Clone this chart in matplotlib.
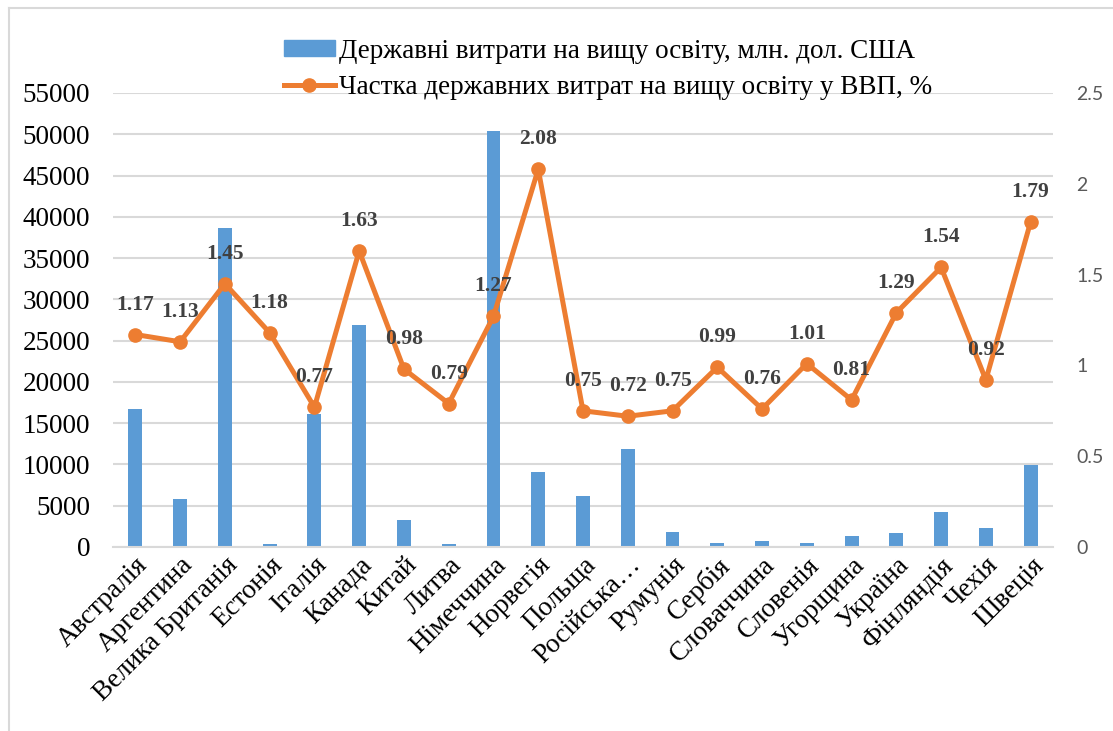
import numpy as np
import matplotlib
matplotlib.use('Agg')
import matplotlib.pyplot as plt
from matplotlib.lines import Line2D

countries = ["Австралія", "Аргентина", "Велика Британія", "Естонія", "Італія",
             "Канада", "Китай", "Литва", "Німеччина", "Норвегія", "Польща",
             "Російська…", "Румунія", "Сербія", "Словаччина", "Словенія",
             "Угорщина", "Україна", "Фінляндія", "Чехія", "Швеція"]
spending = [16700, 5800, 38700, 320, 16150, 26900, 3300, 400, 50350, 9050, 6200,
            11900, 1800, 500, 770, 520, 1290, 1650, 4250, 2300, 9900]
gdp_share = [1.17, 1.13, 1.45, 1.18, 0.77, 1.63, 0.98, 0.79, 1.27, 2.08, 0.75,
             0.72, 0.75, 0.99, 0.76, 1.01, 0.81, 1.29, 1.54, 0.92, 1.79]
left_ticks = list(range(0, 55001, 5000))
right_ticks = [0, 0.5, 1, 1.5, 2, 2.5]

bar_label = "Державні витрати на вищу освіту, млн. дол. США"
line_label = "Частка державних витрат на вищу освіту у ВВП, %"

BLUE = "#5B9BD5"
ORANGE = "#ED7D31"
SERIF = "Liberation Serif"

W, H = 1113, 731
fig = plt.figure(figsize=(W / 100, H / 100), dpi=100)
ax = fig.add_axes([113 / W, (H - 547) / H, 940 / W, 454 / H])

x = np.arange(len(countries))
ax.bar(x, spending, width=0.31, color=BLUE, zorder=2)
ax.set_xlim(-0.5, len(countries) - 0.5)
ax.set_ylim(0, 55000)
ax.set_yticks(left_ticks)
ax.set_yticklabels([str(v) for v in left_ticks], fontfamily=SERIF, fontsize=19.5)
ax.yaxis.grid(True, color="#D9D9D9", linewidth=1.5, zorder=0)
ax.set_axisbelow(True)
for s in ["top", "right", "left"]:
    ax.spines[s].set_visible(False)
ax.spines["bottom"].set_color("#D9D9D9")
ax.spines["bottom"].set_linewidth(1.5)
ax.tick_params(axis="y", length=0, pad=16.5)
ax.tick_params(axis="x", length=0, pad=4)
ax.set_xticks(x)
ax.set_xticklabels(countries, rotation=45, ha="right", rotation_mode="anchor",
                   fontfamily=SERIF, fontsize=19.5)

ax2 = ax.twinx()
ax2.plot(x, gdp_share, color=ORANGE, linewidth=3.6, marker="o", markersize=9.5, zorder=3)
ax2.set_ylim(0, 2.5)
ax2.set_yticks(right_ticks)
ax2.set_yticklabels([("%g" % v) for v in right_ticks], fontfamily="Lato", fontsize=14,
                    color="#595959")
ax2.tick_params(axis="y", length=0, pad=17)
for s in ["top", "right", "left", "bottom"]:
    ax2.spines[s].set_visible(False)

for xi, v in zip(x, gdp_share):
    ax2.annotate("%.2f" % v, (xi, v), xytext=(0, 30), textcoords="offset pixels",
                 ha="center", va="center", fontfamily=SERIF, fontsize=15.5,
                 fontweight="bold", color="#404040")

handles = [plt.Rectangle((0, 0), 1, 1, color=BLUE),
           Line2D([0], [0], color=ORANGE, linewidth=3.6, marker="o", markersize=9.5)]
fig.legend(handles, [bar_label, line_label], loc="upper left",
           bbox_to_anchor=(270 / W, 1 - 25 / H), frameon=False,
           prop={"family": SERIF, "size": 19.5}, handlelength=1.9,
           handleheight=0.55, handletextpad=0.15, labelspacing=0.42, borderpad=0)

# outer frame of the embedded chart
fig.add_artist(Line2D([9 / W, 9 / W], [0, 1 - 8 / H], color="#D9D9D9", linewidth=1.5))
fig.add_artist(Line2D([9 / W, 1], [1 - 8 / H, 1 - 8 / H], color="#D9D9D9", linewidth=1.5))

fig.savefig("out.png", dpi=100)
